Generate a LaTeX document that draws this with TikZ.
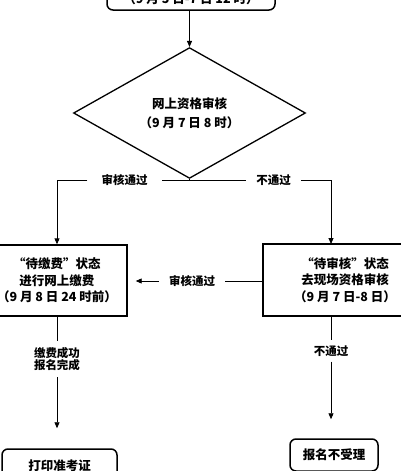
\documentclass[tikz,border=0pt]{standalone}
\usepackage{fontspec}
\newfontfamily\cjk{Noto Sans CJK SC}
\usetikzlibrary{shapes.geometric,arrows.meta}
\begin{document}
\begin{tikzpicture}[x=1pt,y=-1pt,
  every node/.style={font=\cjk\bfseries\fontsize{12.5}{16.5}\selectfont},
  conn/.style={line width=0.9pt},
  arr/.style={conn,-{Triangle[length=6pt,width=5pt]}},
  rbox/.style={draw,line width=1.5pt,rounded corners=6pt,inner sep=0pt,align=center},
  sbox/.style={draw,line width=1.4pt,inner sep=0pt,align=center},
  lbl/.style={font=\cjk\bfseries\fontsize{11.5}{12.5}\selectfont,align=center}]
\useasboundingbox (0,0) rectangle (400,471);
% top box (cut by the page)
\node[rbox,minimum width=168,minimum height=22] (start) at (191,-1) {（9 月 5 日-7 日 12 时）};
% decision
\node[draw,diamond,line width=1.3pt,minimum width=232,minimum height=97,inner sep=0pt,align=center,
  font=\cjk\bfseries\fontsize{12.5}{19}\selectfont] (dia) at (189.5,113) {网上资格审核\\（9 月 7 日 8 时）};
\draw[arr] (start.south -| dia.north) -- (dia.north);
% branch
\coordinate (j) at (189.5,180);
\node[lbl,inner xsep=14,inner ysep=3] (pass) at (124.5,180) {审核通过};
\node[lbl,inner xsep=10,inner ysep=3] (fail) at (273.5,180) {不通过};
% middle boxes
\node[sbox,minimum width=140,minimum height=71] (pay) at (57,280.5) {“待缴费”状态\\进行网上缴费\\（9 月 8 日 24 时前）};
\node[sbox,minimum width=164,minimum height=72] (chk) at (345,280) {“待审核”状态\\去现场资格审核\\（9 月 7 日-8 日）};
\coordinate (chkin) at (331,244);
\coordinate (chkout) at (331,316);
\draw[conn] (dia.south) -- (j);
\draw[conn] (j) -- (pass);
\draw[arr] (pass) -| (pay.north);
\draw[conn] (j) -- (fail);
\draw[arr] (fail) -| (chkin);
% middle connector
\node[lbl,inner xsep=10,inner ysep=3] (pass2) at (192,281) {审核通过};
\draw[conn] (pass2 -| chk.west) -- (pass2);
\draw[arr,shorten >=8pt] (pass2) -- (pass2 -| pay.east);
% bottom
\node[lbl,inner sep=6] (done) at (57,359) {缴费成功\\报名完成};
\node[lbl,inner xsep=6,inner ysep=5] (fail2) at (331,351) {不通过};
\node[rbox,minimum width=115,minimum height=34] (print) at (59.5,466) {打印准考证};
\node[rbox,minimum width=88,minimum height=32] (rej) at (334,455) {报名不受理};
\draw[conn] (pay.south) -- (done);
\draw[arr,shorten >=20pt] (done) -- (done |- print.north);
\draw[conn] (chkout) -- (fail2);
\draw[arr,shorten >=19pt] (fail2) -- (fail2 |- rej.north);
\end{tikzpicture}
\end{document}
